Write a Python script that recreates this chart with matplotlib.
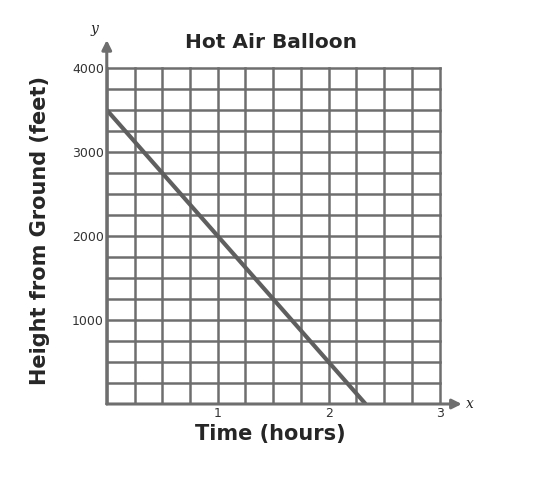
import matplotlib.pyplot as plt

# time in hours and height in feet (straight descent)
time_hours = [0, 2.333]
height_feet = [3500, 0]

x_ticks = [1, 2, 3]
y_ticks = [1000, 2000, 3000, 4000]

grid_x = [i * 0.25 for i in range(13)]
grid_y = [i * 250 for i in range(17)]

gray = '#6e6e6e'
dark = '#262626'

fig = plt.figure(figsize=(5.42, 5.0), dpi=100)
ax = fig.add_axes([0.197, 0.192, 0.655, 0.728])

ax.set_xlim(0, 3.2)
ax.set_ylim(0, 4333)

# grid only inside the 0..3, 0..4000 box
for gx in grid_x:
    ax.plot([gx, gx], [0, 4000], color=gray, linewidth=1.8, zorder=1)
for gy in grid_y:
    ax.plot([0, 3], [gy, gy], color=gray, linewidth=1.8, zorder=1)

# the balloon's descent
ax.plot(time_hours, height_feet, color='#5f5f5f', linewidth=3, zorder=3,
        solid_capstyle='butt')

# axes with arrows
ax.annotate('', xy=(3.2, 0), xytext=(0, 0),
            arrowprops=dict(arrowstyle='-|>', color=gray, lw=2.2,
                            mutation_scale=14, shrinkA=0, shrinkB=0))
ax.annotate('', xy=(0, 4333), xytext=(0, 0),
            arrowprops=dict(arrowstyle='-|>', color=gray, lw=2.2,
                            mutation_scale=14, shrinkA=0, shrinkB=0))
ax.text(3.24, 0, 'x', fontsize=10, style='italic', family='serif',
        va='center', ha='left', color=dark)
ax.text(-0.11, 4380, 'y', fontsize=10, style='italic', family='serif',
        va='bottom', ha='center', color=dark)

for s in ax.spines.values():
    s.set_visible(False)

ax.set_xticks(x_ticks)
ax.set_yticks(y_ticks)
ax.set_xticklabels([str(t) for t in x_ticks], fontsize=9, color='#333333')
ax.set_yticklabels([str(t) for t in y_ticks], fontsize=9, color='#333333')
ax.tick_params(length=0, pad=2)

ax.set_xlabel('Time (hours)', fontsize=15, fontweight='bold', color=dark)
ax.set_ylabel('Height from Ground (feet)', fontsize=15, fontweight='bold',
              color=dark)
ax.yaxis.set_label_coords(-0.16, 0.478)
ax.xaxis.set_label_coords(0.46, -0.055)

fig.text(0.5, 0.915, 'Hot Air Balloon', fontsize=14.5, fontweight='bold',
         color=dark, ha='center', va='center')

plt.savefig('out.png', dpi=100)
